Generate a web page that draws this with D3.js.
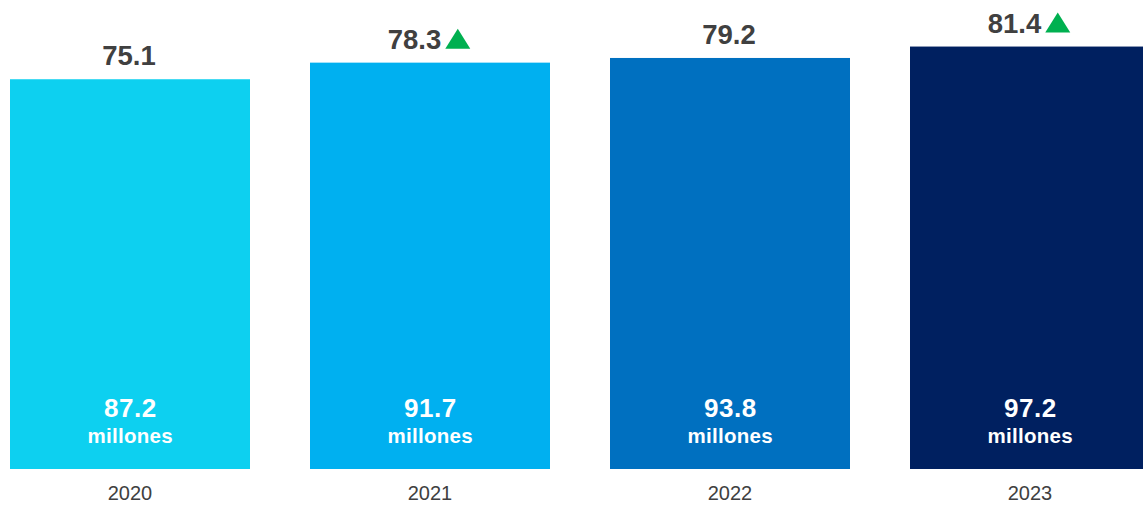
<!DOCTYPE html>
<html><head><meta charset="utf-8">
<script src="https://cdn.jsdelivr.net/npm/d3@7"></script>
<style>body{margin:0;background:#fff}svg{display:block}</style>
</head><body><svg id="c" width="1143" height="506"></svg>
<script>
const years = ["2020","2021","2022","2023"];
const pctValues = [75.1, 78.3, 79.2, 81.4];
const millions = [87.2, 91.7, 93.8, 97.2];
const increased = [false, true, false, true];
const colors = ["#0DD0F0","#00B0F0","#0070C0","#002060"];

const svg = d3.select("#c");
const font = "Arial, 'Liberation Sans', sans-serif";
const x = d3.scaleBand().domain(years).range([10,1150]).paddingInner(0.2).paddingOuter(0);
const y = d3.scaleLinear().domain([0, 90.37]).range([469, 0]);

const data = years.map((yr,i)=>({yr, v:pctValues[i], m:millions[i], up:increased[i], c:colors[i]}));

svg.selectAll("rect.bar").data(data).join("rect").attr("class","bar")
  .attr("x", d=>x(d.yr)).attr("width", x.bandwidth())
  .attr("y", d=>y(d.v)).attr("height", d=>y(0)-y(d.v)).attr("fill", d=>d.c);

// top labels (with optional triangle)
const g = svg.selectAll("g.top").data(data).join("g").attr("class","top");
g.each(function(d){
  const gg = d3.select(this);
  const t = gg.append("text").text(d3.format(".1f")(d.v))
    .attr("font-family", font).attr("font-weight","bold").attr("font-size",27.5)
    .attr("fill","#404040").attr("y", y(d.v)-14);
  const w = t.node().getComputedTextLength();
  const triW = 25, gap = 4;
  const total = w + (d.up ? gap + triW : 0);
  const cx = x(d.yr) + x.bandwidth()/2 - 1;
  const x0 = cx - total/2;
  t.attr("x", x0);
  if (d.up) {
    const bx = x0 + w + gap, by = y(d.v)-14;
    gg.append("path").attr("d", `M${bx},${by} L${bx+triW},${by} L${bx+triW/2},${by-20} Z`).attr("fill","#00B050");
  }
});

svg.selectAll("text.num").data(data).join("text").attr("class","num")
  .attr("x", d=>x(d.yr)+x.bandwidth()/2+0.3).attr("y", 417).attr("text-anchor","middle")
  .attr("font-family", font).attr("font-weight","bold").attr("font-size",26)
  .attr("letter-spacing","0.5px").attr("fill","#fff")
  .text(d=>d3.format(".1f")(d.m));
svg.selectAll("text.mil").data(data).join("text").attr("class","mil")
  .attr("x", d=>x(d.yr)+x.bandwidth()/2+0.2).attr("y", 443).attr("text-anchor","middle")
  .attr("font-family", font).attr("font-weight","bold").attr("font-size",20.5)
  .attr("letter-spacing","0.3px").attr("fill","#fff")
  .text("millones");

const xAxis = svg.append("g").attr("transform","translate(0,469)")
  .call(d3.axisBottom(x).tickSize(0).tickPadding(0));
xAxis.select(".domain").remove();
xAxis.selectAll("text").attr("dy",null).attr("y",30.5).attr("font-family",font).attr("font-size",20).attr("fill","#404040");
</script></body></html>
